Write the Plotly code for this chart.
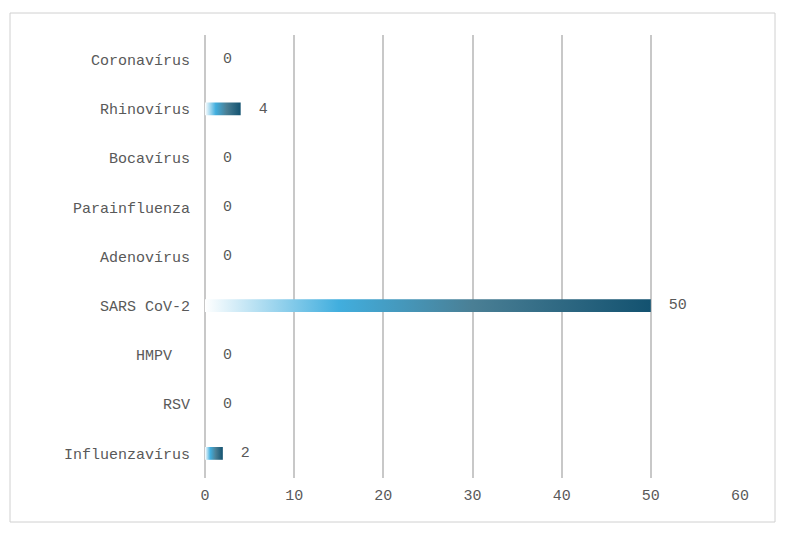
import plotly.graph_objects as go

categories = ["Influenzavírus", "RSV", "HMPV  ", "SARS CoV-2", "Adenovírus",
              "Parainfluenza", "Bocavírus", "Rhinovírus", "Coronavírus"]
values = [2, 0, 0, 50, 0, 0, 0, 4, 0]

font = dict(family="Liberation Mono, Courier New, monospace", size=15, color="#595959")
scale = [[0, "#ffffff"], [0.3, "#41aede"], [0.6, "#4a7f95"], [1, "#135270"]]
half = 0.13

W, H = 771, 521
L, R, T, B = 197, 39, 27, 51
pw, ph = W - L - R, H - T - B

fig = go.Figure()
for i, v in enumerate(values):
    if v <= 0:
        continue
    fig.add_trace(go.Scatter(
        x=[0, v, v, 0, 0], y=[i - half, i - half, i + half, i + half, i - half],
        mode="lines", line=dict(width=0), fill="toself",
        fillgradient=dict(type="horizontal", colorscale=scale),
        hoverinfo="skip", showlegend=False))
fig.add_trace(go.Scatter(
    x=values, y=list(range(len(values))), mode="text",
    text=[f"  {v}" for v in values], textposition="middle right",
    textfont=font, showlegend=False))

fig.update_layout(
    width=W, height=H, paper_bgcolor="white", plot_bgcolor="white",
    margin=dict(l=L, r=R, t=T, b=B), font=font,
    xaxis=dict(range=[0, 60], dtick=10, showgrid=True, gridcolor="#c8c8c8",
               gridwidth=1.5, zeroline=True, zerolinecolor="#c8c8c8",
               zerolinewidth=1.5, ticks="", tickfont=font, ticklabelstandoff=6),
    yaxis=dict(range=[-0.5, len(values) - 0.5], tickvals=list(range(len(values))),
               ticktext=categories, showgrid=False, zeroline=False,
               ticks="", ticklen=0, tickfont=font, ticklabelstandoff=14),
    shapes=[dict(type="rect", xref="paper", yref="paper",
                 x0=(2 - L) / pw, x1=(767 - L) / pw,
                 y0=(T + ph - 514) / ph, y1=(T + ph - 5) / ph,
                 line=dict(color="#d0d0d0", width=1))],
)
fig.write_html("out.html")
